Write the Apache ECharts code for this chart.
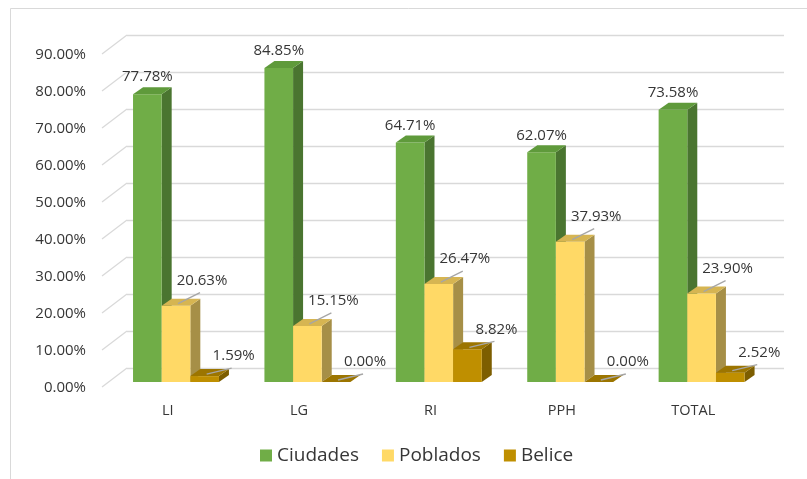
<!DOCTYPE html>
<html>
<head>
<meta charset="utf-8">
<script src="https://cdn.jsdelivr.net/npm/echarts@6/dist/echarts.min.js"></script>
<style>
  html, body { margin: 0; padding: 0; background: #fff; }
  #chart { width: 807px; height: 479px; }
</style>
</head>
<body>
<div id="chart"></div>
<script>
// datos
var categories = ['LI', 'LG', 'RI', 'PPH', 'TOTAL'];
var ciudades = [77.78, 84.85, 64.71, 62.07, 73.58];
var poblados = [20.63, 15.15, 26.47, 37.93, 23.90];
var belice = [1.59, 0.00, 8.82, 0.00, 2.52];
var valueTicks = [0, 10, 20, 30, 40, 50, 60, 70, 80, 90];

var FONT = "'Open Sans', 'Liberation Sans', sans-serif";
var TXT = '#363636';

// colores: frente, lado, arriba
var colCiudades = ['#70ad47', '#4a7530', '#5f9a3b'];
var colPoblados = ['#ffd966', '#a68f47', '#d6b552'];
var colBelice = ['#bf8f00', '#7d5e00', '#9c7500'];

function toRows(arr){
    return arr.map(function(v, i){ return [i, v]; });
}

// barra en 3D dibujada desde las escalas del eje
function bar3d(sIdx, colors, lab){
    return function(params, api){
        var cat = api.value(0), v = api.value(1);
        var base = api.coord([cat, 0]);
        var top = api.coord([cat, v]);
        var band = api.size([1, 0])[0];
        var w = band * 0.218;
        var dx = 10, dy = -7;
        var x0 = base[0] + 8.3 - 1.5 * w + sIdx * w;
        var x1 = x0 + w;
        var yb = base[1] - 6, yt = top[1] - 6;
        var cx = (x0 + x1) / 2;
        var kids = [
            { type: 'polygon', shape: { points: [[x1, yt], [x1 + dx, yt + dy], [x1 + dx, yb + dy], [x1, yb]] },
              style: { fill: colors[1] } },
            { type: 'rect', shape: { x: x0, y: yt, width: w, height: yb - yt },
              style: { fill: colors[0] } },
            { type: 'polygon', shape: { points: [[x0, yt], [x1, yt], [x1 + dx, yt + dy], [x0 + dx, yt + dy]] },
              style: { fill: colors[2] } }
        ];
        var tx = cx + lab.dx, ty = yt + lab.dy;
        if (lab.leader) {
            kids.push({ type: 'line', z2: 90,
                shape: { x1: cx + 2, y1: yt - 2, x2: tx - 2, y2: ty + 12 },
                style: { stroke: '#a6a6a6', lineWidth: 1.3 } });
        }
        kids.push({ type: 'text', z2: 100,
            style: { x: tx, y: ty, text: v.toFixed(2) + '%', fill: TXT,
                     font: '15px ' + FONT, align: 'center', verticalAlign: 'middle' } });
        return { type: 'group', children: kids };
    };
}

// lineas diagonales de la pared lateral
function sideLines(params, api){
    var p = api.coord([0, api.value(0)]);
    return { type: 'line', shape: { x1: p[0], y1: p[1], x2: p[0] - 25, y2: p[1] + 19 },
             style: { stroke: '#d9d9d9', lineWidth: 1.3 } };
}

var myChart = echarts.init(document.getElementById('chart'));

var option = {
    animation: false,
    backgroundColor: '#fff',
    graphic: [
        { type: 'polyline', shape: { points: [[10.5, 479], [10.5, 8.5], [807, 8.5]] },
          style: { stroke: '#d9d9d9', lineWidth: 1, fill: null } }
    ],
    legend: {
        left: 255, top: 441,
        itemWidth: 12, itemHeight: 12, itemGap: 23,
        icon: 'rect',
        textStyle: { fontFamily: FONT, fontSize: 19, color: TXT },
        data: ['Ciudades', 'Poblados', 'Belice']
    },
    grid: [
        { left: 102, right: 48, top: 55, bottom: 91 },   // plano frontal
        { left: 127, right: 23, top: 35, bottom: 111 }   // pared del fondo
    ],
    xAxis: [
        { type: 'category', gridIndex: 0, data: categories,
          axisLine: { show: false }, axisTick: { show: false },
          axisLabel: { margin: 15, fontFamily: FONT, fontSize: 14.5, color: TXT } },
        { type: 'value', gridIndex: 1, min: 0, max: 1, show: false }
    ],
    yAxis: [
        { type: 'value', gridIndex: 0, min: 0, max: 90, interval: 10,
          axisLine: { show: false }, axisTick: { show: false }, splitLine: { show: false },
          axisLabel: { margin: 16, fontFamily: FONT, fontSize: 15, color: TXT,
                       formatter: function(v){ return v.toFixed(2) + '%'; } } },
        { type: 'value', gridIndex: 1, min: 0, max: 90, interval: 10,
          axisLine: { show: false }, axisTick: { show: false }, axisLabel: { show: false },
          splitLine: { lineStyle: { color: '#d9d9d9', width: 1.3 } } }
    ],
    series: [
        { type: 'custom', name: 'diag', xAxisIndex: 1, yAxisIndex: 1, silent: true,
          data: valueTicks, renderItem: sideLines, encode: { y: 0 } },
        { type: 'custom', name: 'Ciudades', xAxisIndex: 0, yAxisIndex: 0,
          itemStyle: { color: colCiudades[0] },
          data: toRows(ciudades), encode: { x: 0, y: 1 },
          renderItem: bar3d(0, colCiudades, { dx: 0, dy: -17, leader: false }) },
        { type: 'custom', name: 'Poblados', xAxisIndex: 0, yAxisIndex: 0,
          itemStyle: { color: colPoblados[0] },
          data: toRows(poblados), encode: { x: 0, y: 1 },
          renderItem: bar3d(1, colPoblados, { dx: 26, dy: -25, leader: true }) },
        { type: 'custom', name: 'Belice', xAxisIndex: 0, yAxisIndex: 0,
          itemStyle: { color: colBelice[0] },
          data: toRows(belice), encode: { x: 0, y: 1 },
          renderItem: bar3d(2, colBelice, { dx: 29, dy: -20, leader: true }) }
    ]
};

myChart.setOption(option);
</script>
</body>
</html>
